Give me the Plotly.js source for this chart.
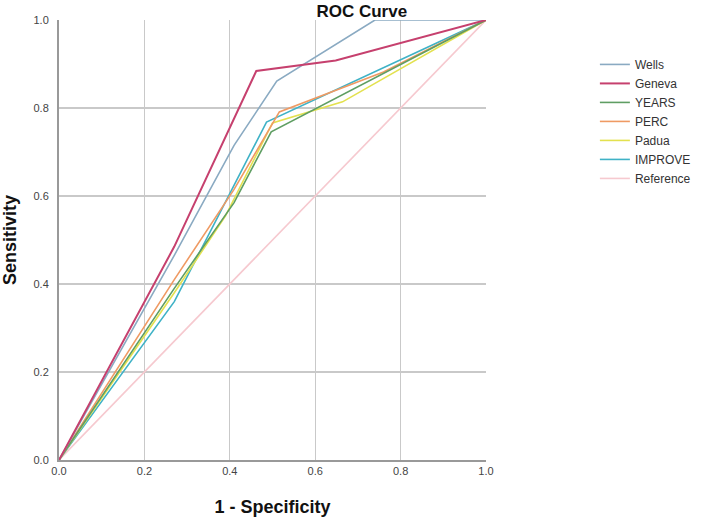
<!DOCTYPE html>
<html>
<head>
<meta charset="utf-8">
<script src="https://cdn.plot.ly/plotly-3.0.1.min.js"></script>
<style>html,body{margin:0;padding:0;background:#fff}#chart{width:708px;height:519px}</style>
</head>
<body>
<div id="chart"></div>
<script>
// Data
const seriesNames = ["Wells", "Geneva", "YEARS", "PERC", "Padua", "IMPROVE", "Reference"];

const wellsX   = [0, 0.27, 0.41, 0.51, 0.74, 1];
const wellsY   = [0, 0.465, 0.715, 0.861, 1, 1];

const genevaX  = [0, 0.27, 0.462, 0.648, 1];
const genevaY  = [0, 0.485, 0.884, 0.908, 1];

const yearsX   = [0, 0.27, 0.41, 0.497, 1];
const yearsY   = [0, 0.39, 0.585, 0.746, 1];

const percX    = [0, 0.27, 0.41, 0.516, 0.76, 1];
const percY    = [0, 0.41, 0.615, 0.791, 0.882, 1];

const paduaX   = [0, 0.27, 0.39, 0.5, 0.664, 1];
const paduaY   = [0, 0.38, 0.555, 0.766, 0.814, 1];

const improveX = [0, 0.27, 0.486, 1];
const improveY = [0, 0.36, 0.768, 1];

const refX     = [0, 1];
const refY     = [0, 1];

const colors = ["#8aaac2", "#c6406e", "#5f9e63", "#ef9a63", "#e3e14f", "#3fb2c6", "#f6c9cf"];

const xs = [wellsX, genevaX, yearsX, percX, paduaX, improveX, refX];
const ys = [wellsY, genevaY, yearsY, percY, paduaY, improveY, refY];

const traces = seriesNames.map((n, i) => ({
  type: "scatter",
  mode: "lines",
  name: n,
  x: xs[i],
  y: ys[i],
  line: {color: colors[i], width: i === 1 ? 2 : 1.6},
  hoverinfo: "skip"
}));
// draw reference first so it sits beneath, but keep legend order
const order = [6, 5, 4, 3, 2, 0, 1];
const drawn = order.map(i => Object.assign({}, traces[i], {legendrank: i + 1}));

const font = "Arial, 'Liberation Sans', sans-serif";

const layout = {
  width: 708,
  height: 519,
  margin: {l: 59, r: 211, t: 20, b: 59, pad: 0},
  paper_bgcolor: "#ffffff",
  plot_bgcolor: "#ffffff",
  font: {family: font, color: "#333", size: 12},
  title: {text: "ROC Curve", font: {family: font, size: 17, color: "#111", weight: "bold"},
          x: 0.511, xref: "container", xanchor: "center", y: 0.979, yref: "container", yanchor: "middle"},
  xaxis: {
    range: [0, 1], dtick: 0.2, tick0: 0, tickformat: ".1f",
    showgrid: true, gridcolor: "#c9c9c9", gridwidth: 1.3,
    zeroline: false, showline: true, linecolor: "#999", linewidth: 2,
    ticks: "", tickfont: {size: 11, color: "#444"}, automargin: false,
    title: {text: "1 - Specificity", font: {size: 18, color: "#111", weight: "bold"}, standoff: 24},
    fixedrange: true
  },
  yaxis: {
    range: [0, 1], dtick: 0.2, tick0: 0, tickformat: ".1f",
    showgrid: true, gridcolor: "#c9c9c9", gridwidth: 1.3,
    zeroline: false, showline: true, linecolor: "#999", linewidth: 2,
    ticks: "", tickfont: {size: 11, color: "#444"}, ticklabelstandoff: 6, automargin: false,
    title: {text: "Sensitivity", font: {size: 18, color: "#111", weight: "bold"}, standoff: 14},
    fixedrange: true
  },
  showlegend: true,
  legend: {
    x: 1.255, y: 0.932, xanchor: "left", yanchor: "top",
    font: {size: 12, color: "#333"},
    traceorder: "normal", itemwidth: 30,
    bgcolor: "rgba(0,0,0,0)", borderwidth: 0
  }
};

Plotly.newPlot("chart", drawn, layout, {displayModeBar: false, staticPlot: true});
</script>
</body>
</html>
